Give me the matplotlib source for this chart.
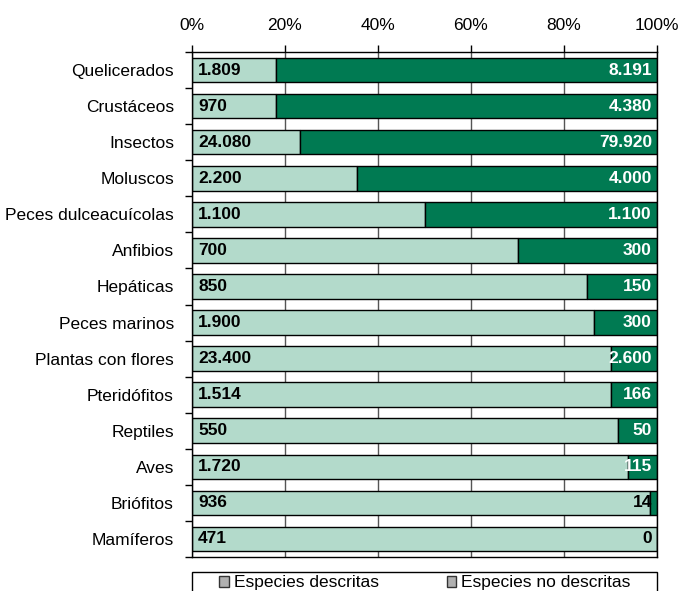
import matplotlib
matplotlib.use("Agg")
import matplotlib.pyplot as plt
from matplotlib.patches import Patch, Rectangle
from matplotlib.ticker import FuncFormatter, FixedLocator
import numpy as np

plt.rcParams['font.family'] = ['Liberation Sans', 'DejaVu Sans']

categories = ["Quelicerados", "Crustáceos", "Insectos", "Moluscos",
              "Peces dulceacuícolas", "Anfibios", "Hepáticas", "Peces marinos",
              "Plantas con flores", "Pteridófitos", "Reptiles", "Aves",
              "Briófitos", "Mamíferos"]
descritas = [1809, 970, 24080, 2200, 1100, 700, 850, 1900, 23400, 1514, 550, 1720, 936, 471]
no_descritas = [8191, 4380, 79920, 4000, 1100, 300, 150, 300, 2600, 166, 50, 115, 14, 0]
x_ticks = [0, 20, 40, 60, 80, 100]

light = "#b3dacb"
dark = "#007a52"
FS = 12.5


def fmt(v):
    return f"{v:,}".replace(",", ".")


d = np.array(descritas, dtype=float)
n = np.array(no_descritas, dtype=float)
tot = d + n
pd_ = d / tot * 100
pn_ = n / tot * 100
y = np.arange(len(categories))

fig = plt.figure(figsize=(6.81, 5.91), dpi=100)
ax = fig.add_axes([192 / 681, 1 - 557 / 591, 465 / 681, 505 / 591])

ax.set_axisbelow(True)
ax.grid(axis='x', color='#555555', linewidth=1)
ax.barh(y, pd_, height=0.68, color=light, edgecolor='black', linewidth=1)
ax.barh(y, pn_, left=pd_, height=0.68, color=dark, edgecolor='black', linewidth=1)

for i in range(len(categories)):
    ax.text(1.3, y[i], fmt(descritas[i]), ha='left', va='center',
            fontsize=FS, fontweight='bold', color='black')
    col = 'white' if no_descritas[i] >= 50 else 'black'
    ax.text(98.9, y[i], fmt(no_descritas[i]), ha='right', va='center',
            fontsize=FS, fontweight='bold', color=col)

ax.set_xlim(0, 100)
ax.set_ylim(len(categories) - 0.5, -0.5)
ax.xaxis.tick_top()
ax.set_xticks(x_ticks)
ax.xaxis.set_major_formatter(FuncFormatter(lambda v, p: f"{v:.0f}%"))
ax.tick_params(axis='x', length=5, width=1, labelsize=FS, pad=9)

ax.set_yticks(y)
ax.set_yticklabels(categories, fontsize=FS)
ax.tick_params(axis='y', which='major', length=0, pad=13)
ax.yaxis.set_minor_locator(FixedLocator(np.arange(-0.5, len(categories), 1.0)))
ax.tick_params(axis='y', which='minor', length=5, width=1)

for s in ax.spines.values():
    s.set_color('black')
    s.set_linewidth(1)

# legend frame
fig.patches.append(Rectangle((192 / 681, -0.02), 465 / 681, 0.02 + (591 - 572) / 591,
                             transform=fig.transFigure, facecolor='white',
                             edgecolor='black', linewidth=1))
handles = [Patch(facecolor='#b0b0b0', edgecolor='#333333', label='Especies descritas'),
           Patch(facecolor='#b0b0b0', edgecolor='#333333', label='Especies no descritas')]
fig.legend(handles=handles, loc='center', bbox_to_anchor=(425 / 681, 1 - 583 / 591),
           ncol=2, frameon=False, fontsize=FS, handlelength=0.55, handleheight=0.55,
           handletextpad=0.3, columnspacing=3.9, borderpad=0)

fig.savefig("out.png", dpi=100)
